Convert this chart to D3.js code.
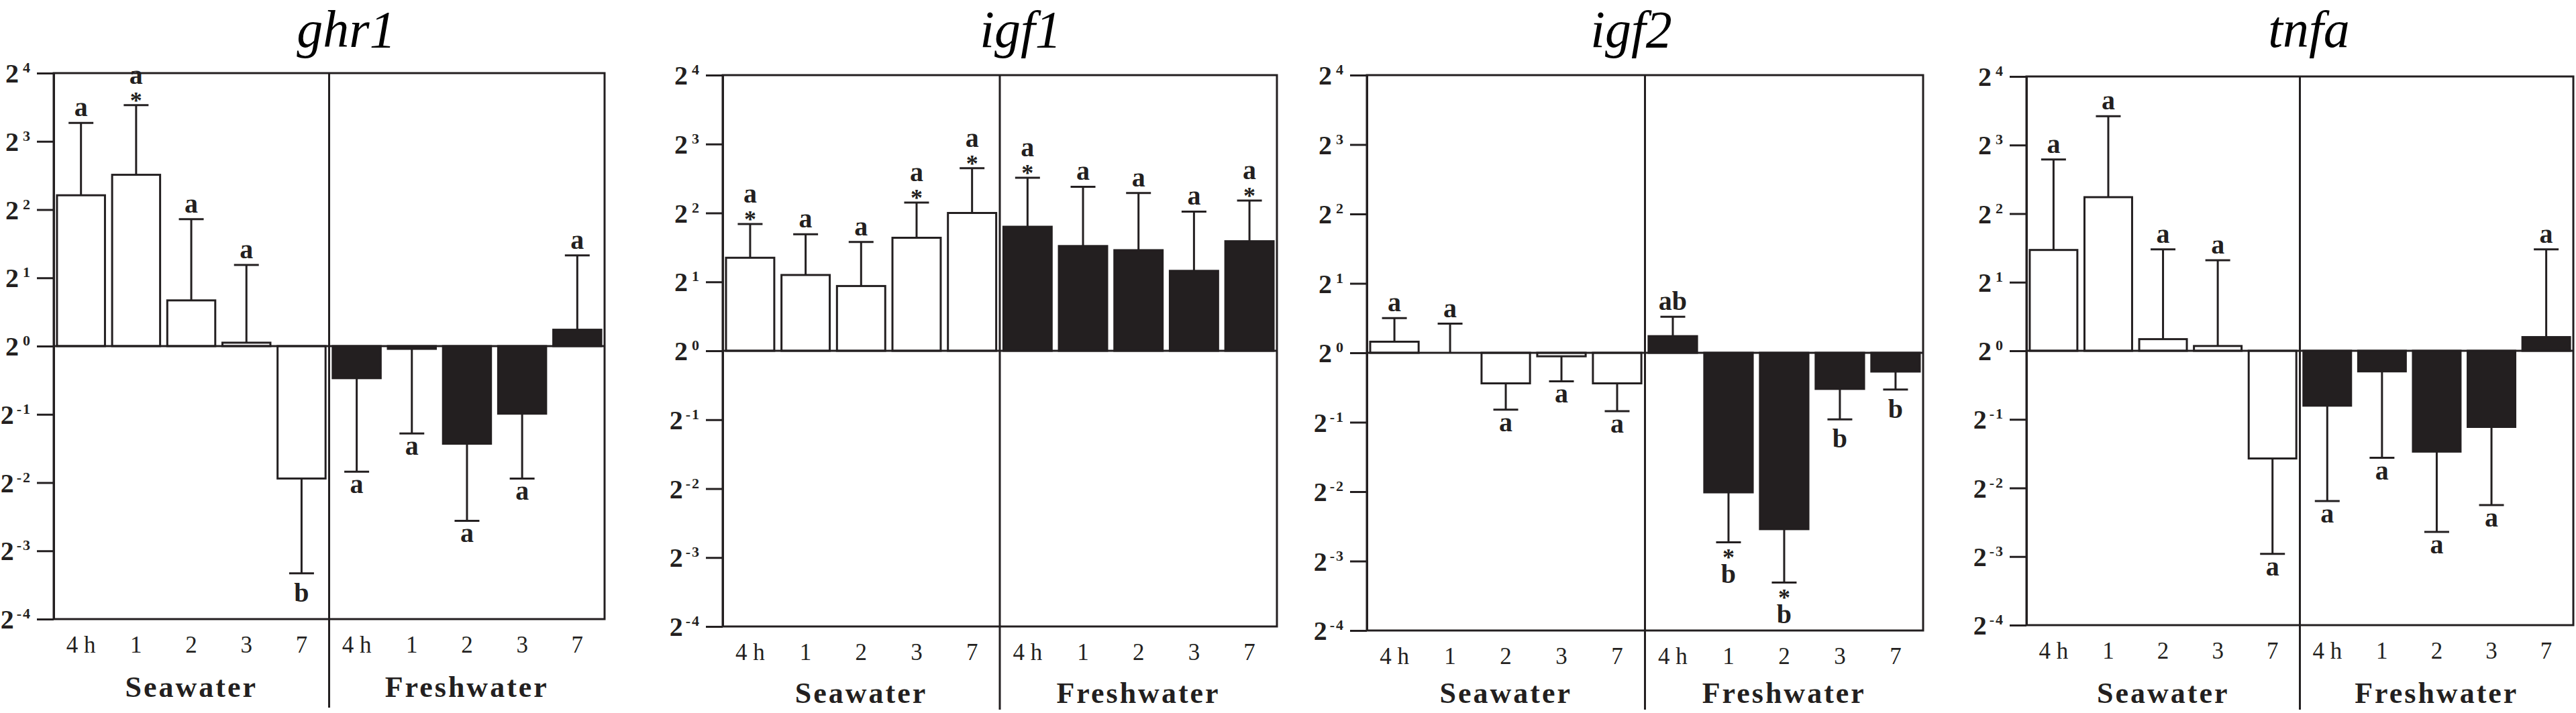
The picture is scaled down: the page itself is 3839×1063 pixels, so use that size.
<!DOCTYPE html>
<html>
<head>
<meta charset="utf-8">
<script src="https://cdn.jsdelivr.net/npm/d3@7"></script>
<style>
  html, body { margin: 0; padding: 0; background: #fff; }
  svg { display: block; }
</style>
</head>
<body>
<svg id="chart" width="3839" height="1063"></svg>
<script>
// ---------------- DATA (log2 fold change) ----------------
const genes = ["ghr1", "igf1", "igf2", "tnfa"];
const timeLabels = ["4 h", "1", "2", "3", "7"];
const groups = ["Seawater", "Freshwater"];
const yTicks = [4, 3, 2, 1, 0, -1, -2, -3, -4];

// 10 bars per gene: 5 seawater then 5 freshwater
const ghr1Mean   = [2.21, 2.51, 0.67, 0.05, -1.94, -0.47, -0.04, -1.43, -0.99, 0.24];
const ghr1Err    = [3.27, 3.53, 1.86, 1.19, -3.33, -1.84, -1.28, -2.56, -1.94, 1.33];
const ghr1Letter = ["a", "a", "a", "a", "b", "a", "a", "a", "a", "a"];
const ghr1Star   = [false, true, false, false, false, false, false, false, false, false];

const igf1Mean   = [1.35, 1.10, 0.94, 1.64, 2.00, 1.80, 1.52, 1.46, 1.16, 1.59];
const igf1Err    = [1.84, 1.69, 1.58, 2.15, 2.65, 2.51, 2.38, 2.29, 2.02, 2.18];
const igf1Letter = ["a", "a", "a", "a", "a", "a", "a", "a", "a", "a"];
const igf1Star   = [true, false, false, true, true, true, false, false, false, true];

const igf2Mean   = [0.16, 0.00, -0.44, -0.05, -0.44, 0.24, -2.01, -2.54, -0.52, -0.27];
const igf2Err    = [0.50, 0.42, -0.82, -0.41, -0.84, 0.52, -2.73, -3.31, -0.96, -0.53];
const igf2Letter = ["a", "a", "a", "a", "a", "ab", "b", "b", "b", "b"];
const igf2Star   = [false, false, false, false, false, false, true, true, false, false];

const tnfaMean   = [1.47, 2.24, 0.17, 0.07, -1.57, -0.80, -0.30, -1.47, -1.11, 0.20];
const tnfaErr    = [2.79, 3.42, 1.48, 1.32, -2.96, -2.19, -1.56, -2.64, -2.25, 1.48];
const tnfaLetter = ["a", "a", "a", "a", "a", "a", "a", "a", "a", "a"];
const tnfaStar   = [false, false, false, false, false, false, false, false, false, false];

const seriesByGene = {
  ghr1: { mean: ghr1Mean, err: ghr1Err, letter: ghr1Letter, star: ghr1Star },
  igf1: { mean: igf1Mean, err: igf1Err, letter: igf1Letter, star: igf1Star },
  igf2: { mean: igf2Mean, err: igf2Err, letter: igf2Letter, star: igf2Star },
  tnfa: { mean: tnfaMean, err: tnfaErr, letter: tnfaLetter, star: tnfaStar }
};

// ---------------- LAYOUT ----------------
const panels = [
  { left: 80,   right: 901,  top: 109, bottom: 923, titleX: 516 },
  { left: 1077, right: 1903, top: 112, bottom: 934, titleX: 1521 },
  { left: 2037, right: 2866, top: 112, bottom: 940, titleX: 2431 },
  { left: 3020, right: 3835, top: 114, bottom: 932, titleX: 3441 }
];

const INK = "#231f20";
const SERIF = "'Liberation Serif', 'Times New Roman', Times, serif";
const SW = 3;

const svg = d3.select("#chart");

genes.forEach((gene, gi) => {
  const P = panels[gi];
  const data = seriesByGene[gene];
  const g = svg.append("g");

  const idx = d3.range(timeLabels.length * groups.length);
  const x = d3.scaleBand().domain(idx).range([P.left, P.right])
    .paddingInner(0.13).paddingOuter(0.06);
  const y = d3.scaleLinear().domain([-4, 4]).range([P.bottom, P.top]);
  const divX = (x(4) + x.bandwidth() + x(5)) / 2;

  // title
  g.append("text")
    .attr("x", P.titleX).attr("y", 70)
    .attr("text-anchor", "middle")
    .attr("font-family", SERIF).attr("font-style", "italic")
    .attr("font-size", 78).attr("fill", "#000")
    .text(gene);

  // bars
  const barData = idx.map(i => ({
    i, mean: data.mean[i], err: data.err[i], letter: data.letter[i], star: data.star[i],
    fresh: i >= timeLabels.length
  }));

  g.selectAll("rect.bar").data(barData).enter().append("rect")
    .attr("class", "bar")
    .attr("x", d => x(d.i))
    .attr("width", x.bandwidth())
    .attr("y", d => y(Math.max(0, d.mean)))
    .attr("height", d => Math.abs(y(d.mean) - y(0)))
    .attr("fill", d => d.fresh ? INK : "#fff")
    .attr("stroke", INK).attr("stroke-width", SW);

  // error bars
  const capW = 37;
  const cx = d => x(d.i) + x.bandwidth() / 2;
  const eb = g.selectAll("g.err").data(barData).enter().append("g").attr("class", "err");
  eb.append("line")
    .attr("x1", cx).attr("x2", cx)
    .attr("y1", d => y(d.mean)).attr("y2", d => y(d.err))
    .attr("stroke", INK).attr("stroke-width", SW);
  eb.append("line")
    .attr("x1", d => cx(d) - capW / 2)
    .attr("x2", d => cx(d) + capW / 2)
    .attr("y1", d => y(d.err)).attr("y2", d => y(d.err))
    .attr("stroke", INK).attr("stroke-width", SW);

  // significance letters & stars
  const up = d => d.err >= d.mean && d.err >= 0;
  const hasAsc = s => /[bdhkl]/.test(s);
  eb.append("text")
    .attr("x", cx)
    .attr("y", d => {
      const cy = y(d.err);
      if (up(d)) return d.star ? cy - 32 : cy - 10;
      const base = cy + 14 + (hasAsc(d.letter) ? 28 : 18);
      return d.star ? base + 18 : base;
    })
    .attr("text-anchor", "middle")
    .attr("font-family", SERIF).attr("font-weight", "bold")
    .attr("font-size", 40).attr("fill", INK)
    .text(d => d.letter);

  eb.filter(d => d.star).append("text")
    .attr("x", cx)
    .attr("y", d => up(d) ? y(d.err) + 5 : y(d.err) + 34)
    .attr("text-anchor", "middle")
    .attr("font-family", SERIF).attr("font-weight", "bold")
    .attr("font-size", 36).attr("fill", INK)
    .text("*");

  // zero line
  g.append("line")
    .attr("x1", P.left).attr("x2", P.right)
    .attr("y1", y(0)).attr("y2", y(0))
    .attr("stroke", INK).attr("stroke-width", SW);

  // box
  g.append("rect")
    .attr("x", P.left).attr("y", P.top)
    .attr("width", P.right - P.left).attr("height", P.bottom - P.top)
    .attr("fill", "none").attr("stroke", INK).attr("stroke-width", SW);

  // divider
  g.append("line")
    .attr("x1", divX).attr("x2", divX)
    .attr("y1", P.top).attr("y2", Math.min(P.bottom + 132, 1058))
    .attr("stroke", INK).attr("stroke-width", SW);

  // y axis
  const yAxis = d3.axisLeft(y).tickValues(yTicks).tickSize(25).tickSizeOuter(0).tickPadding(10)
    .tickFormat(() => "");
  const ya = g.append("g").attr("transform", `translate(${P.left},0)`).call(yAxis);
  ya.select(".domain").attr("stroke", INK).attr("stroke-width", SW);
  ya.selectAll(".tick line").attr("stroke", INK).attr("stroke-width", SW);
  ya.selectAll(".tick text").each(function (d) {
    const t = d3.select(this);
    t.text(null)
      .attr("dy", null).attr("y", 13.5)
      .attr("font-family", SERIF).attr("font-weight", "bold")
      .attr("fill", INK).attr("text-anchor", "end");
    t.append("tspan").attr("font-size", 40).text("2");
    t.append("tspan").attr("font-size", 22).attr("dx", d < 0 ? 4 : 6).attr("dy", -15)
      .text(d < 0 ? "-\u200A" + Math.abs(d) : String(d));
  });

  // x axis labels
  const xAxis = d3.axisBottom(x).tickSize(0).tickPadding(0)
    .tickFormat(i => timeLabels[i % timeLabels.length]);
  const xa = g.append("g").attr("transform", `translate(0,${P.bottom})`).call(xAxis);
  xa.select(".domain").remove();
  xa.selectAll(".tick text")
    .attr("y", 50).attr("dy", null)
    .attr("font-family", SERIF).attr("font-size", 35)
    .attr("fill", INK);

  // group labels
  groups.forEach((grp, k) => {
    const x0 = k === 0 ? P.left : divX;
    const x1 = k === 0 ? divX : P.right;
    g.append("text")
      .attr("x", (x0 + x1) / 2).attr("y", Math.min(P.bottom + 116, 1048))
      .attr("text-anchor", "middle")
      .attr("font-family", SERIF).attr("font-weight", "bold")
      .attr("font-size", 44).attr("letter-spacing", 3)
      .attr("fill", INK)
      .text(grp);
  });
});
</script>
</body>
</html>
